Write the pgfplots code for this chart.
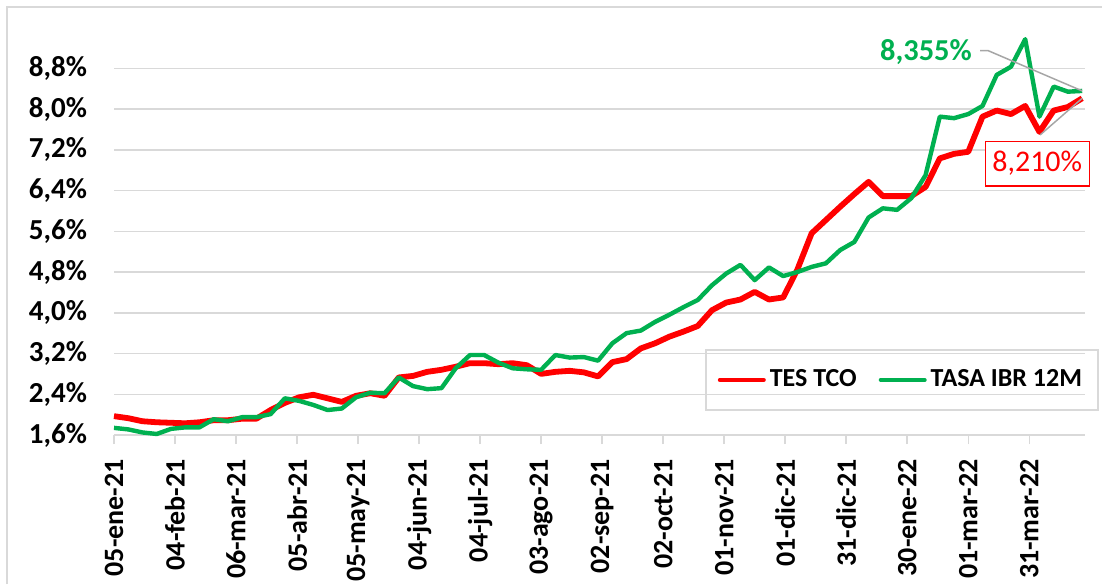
\documentclass[border=0pt]{standalone}
\usepackage{graphicx}
\usepackage{pgfplots}
\pgfplotsset{compat=1.18}
\usepackage{fontspec}
\setmainfont{Carlito}
\definecolor{tred}{HTML}{FF0000}
\definecolor{tgreen}{HTML}{00B050}
\definecolor{gridc}{HTML}{D9D9D9}
\definecolor{leader}{HTML}{A6A6A6}
\pgfplotstableread{
d red green
0 1.97 1.74
7 1.93 1.71
14 1.87 1.65
21 1.85 1.62
28 1.84 1.72
35 1.83 1.75
42 1.85 1.75
49 1.89 1.91
56 1.89 1.87
63 1.92 1.95
70 1.92 1.95
77 2.09 2.01
84 2.23 2.32
91 2.34 2.27
98 2.39 2.19
105 2.32 2.09
112 2.25 2.12
119 2.37 2.34
126 2.42 2.43
133 2.37 2.42
140 2.73 2.73
147 2.76 2.56
154 2.84 2.50
161 2.88 2.52
168 2.94 2.91
175 3.01 3.17
182 3.01 3.17
189 2.99 3.02
196 3.01 2.91
203 2.97 2.89
210 2.80 2.88
217 2.84 3.17
224 2.86 3.12
231 2.83 3.13
238 2.75 3.06
245 3.03 3.40
252 3.09 3.60
259 3.30 3.65
266 3.40 3.82
273 3.53 3.96
280 3.63 4.11
287 3.74 4.25
294 4.05 4.54
301 4.20 4.77
308 4.26 4.94
315 4.41 4.64
322 4.26 4.89
329 4.30 4.72
336 4.85 4.80
343 5.56 4.90
350 5.82 4.97
357 6.08 5.23
364 6.33 5.39
371 6.57 5.87
378 6.29 6.05
385 6.29 6.02
392 6.29 6.25
399 6.47 6.70
406 7.03 7.85
413 7.12 7.82
420 7.16 7.90
427 7.85 8.06
434 7.97 8.67
441 7.90 8.83
448 8.06 9.37
455 7.55 7.85
462 7.97 8.44
469 8.04 8.34
476 8.21 8.355
}\datatable
\begin{document}
\begin{tikzpicture}
\useasboundingbox (0pt,0pt) rectangle (551pt,292pt);
\draw[gridc, line width=0.75pt] (3.5pt,0pt) -- (3.5pt,288.5pt) -- (551pt,288.5pt);
\begin{axis}[
  at={(57pt,74.5pt)}, anchor=south west,
  scale only axis, width=485.5pt, height=203.75pt,
  xmin=0, xmax=477.4, ymin=1.6, ymax=9.6,
  clip=false,
  axis x line*=bottom, axis y line*=left,
  x axis line style={gridc, line width=0.75pt, -},
  y axis line style={draw=none},
  ymajorgrids, grid style={gridc, line width=0.75pt},
  ytick={1.6,2.4,3.2,4.0,4.8,5.6,6.4,7.2,8.0,8.8},
  yticklabels={{1,6\%},{2,4\%},{3,2\%},{4,0\%},{4,8\%},{5,6\%},{6,4\%},{7,2\%},{8,0\%},{8,8\%}},
  ytick style={draw=none},
  yticklabel style={font=\bfseries\fontsize{14.5}{15}\selectfont, xshift=-10pt},
  xtick={0,30,60,90,120,150,180,210,240,270,300,330,360,390,420,450},
  xticklabels={05-ene-21,04-feb-21,06-mar-21,05-abr-21,05-may-21,04-jun-21,04-jul-21,03-ago-21,02-sep-21,02-oct-21,01-nov-21,01-dic-21,31-dic-21,30-ene-22,01-mar-22,31-mar-22},
  xtick align=outside, major tick length=4.5pt,
  xtick style={gridc, line width=0.75pt},
  xticklabel shift=4pt,
  xticklabel style={rotate=90, anchor=east, font=\bfseries\fontsize{14}{15}\selectfont},
  legend columns=2,
  legend style={at={(0.6087,0.0596)}, anchor=south west, draw=gridc, line width=0.75pt, fill=none,
    font=\bfseries\fontsize{13}{13}\selectfont, inner xsep=6pt, inner ysep=8pt,
    /tikz/every even column/.append style={column sep=9pt}},
  legend image code/.code={\draw[#1, line cap=round, line width=2pt] (0pt,0pt) -- (22pt,0pt);},
]
\addplot[tred, line width=2.9pt, line join=round] table[x=d, y=red] {\datatable};
\addlegendentry{TES TCO}
\addplot[tgreen, line width=2.2pt, line join=round] table[x=d, y=green] {\datatable};
\addlegendentry{TASA IBR 12M}
\draw[leader, line width=0.75pt] (axis cs:425.8,9.145) -- (axis cs:429.8,9.145) -- (axis cs:476,8.355);
\draw[leader, line width=0.75pt] (axis cs:455.3,7.49) -- (axis cs:476,8.21);
\node[font=\bfseries\fontsize{15.2}{15}\selectfont, text=tgreen] at (axis cs:399.2,9.12) {8,355\%};
\node[draw=tred, fill=white, text=tred, font=\fontsize{15}{15}\selectfont, minimum width=52pt, minimum height=22.3pt, inner sep=0pt, line width=0.7pt] at (axis cs:453.9,6.93) {8,210\%};
\end{axis}
\end{tikzpicture}
\end{document}
